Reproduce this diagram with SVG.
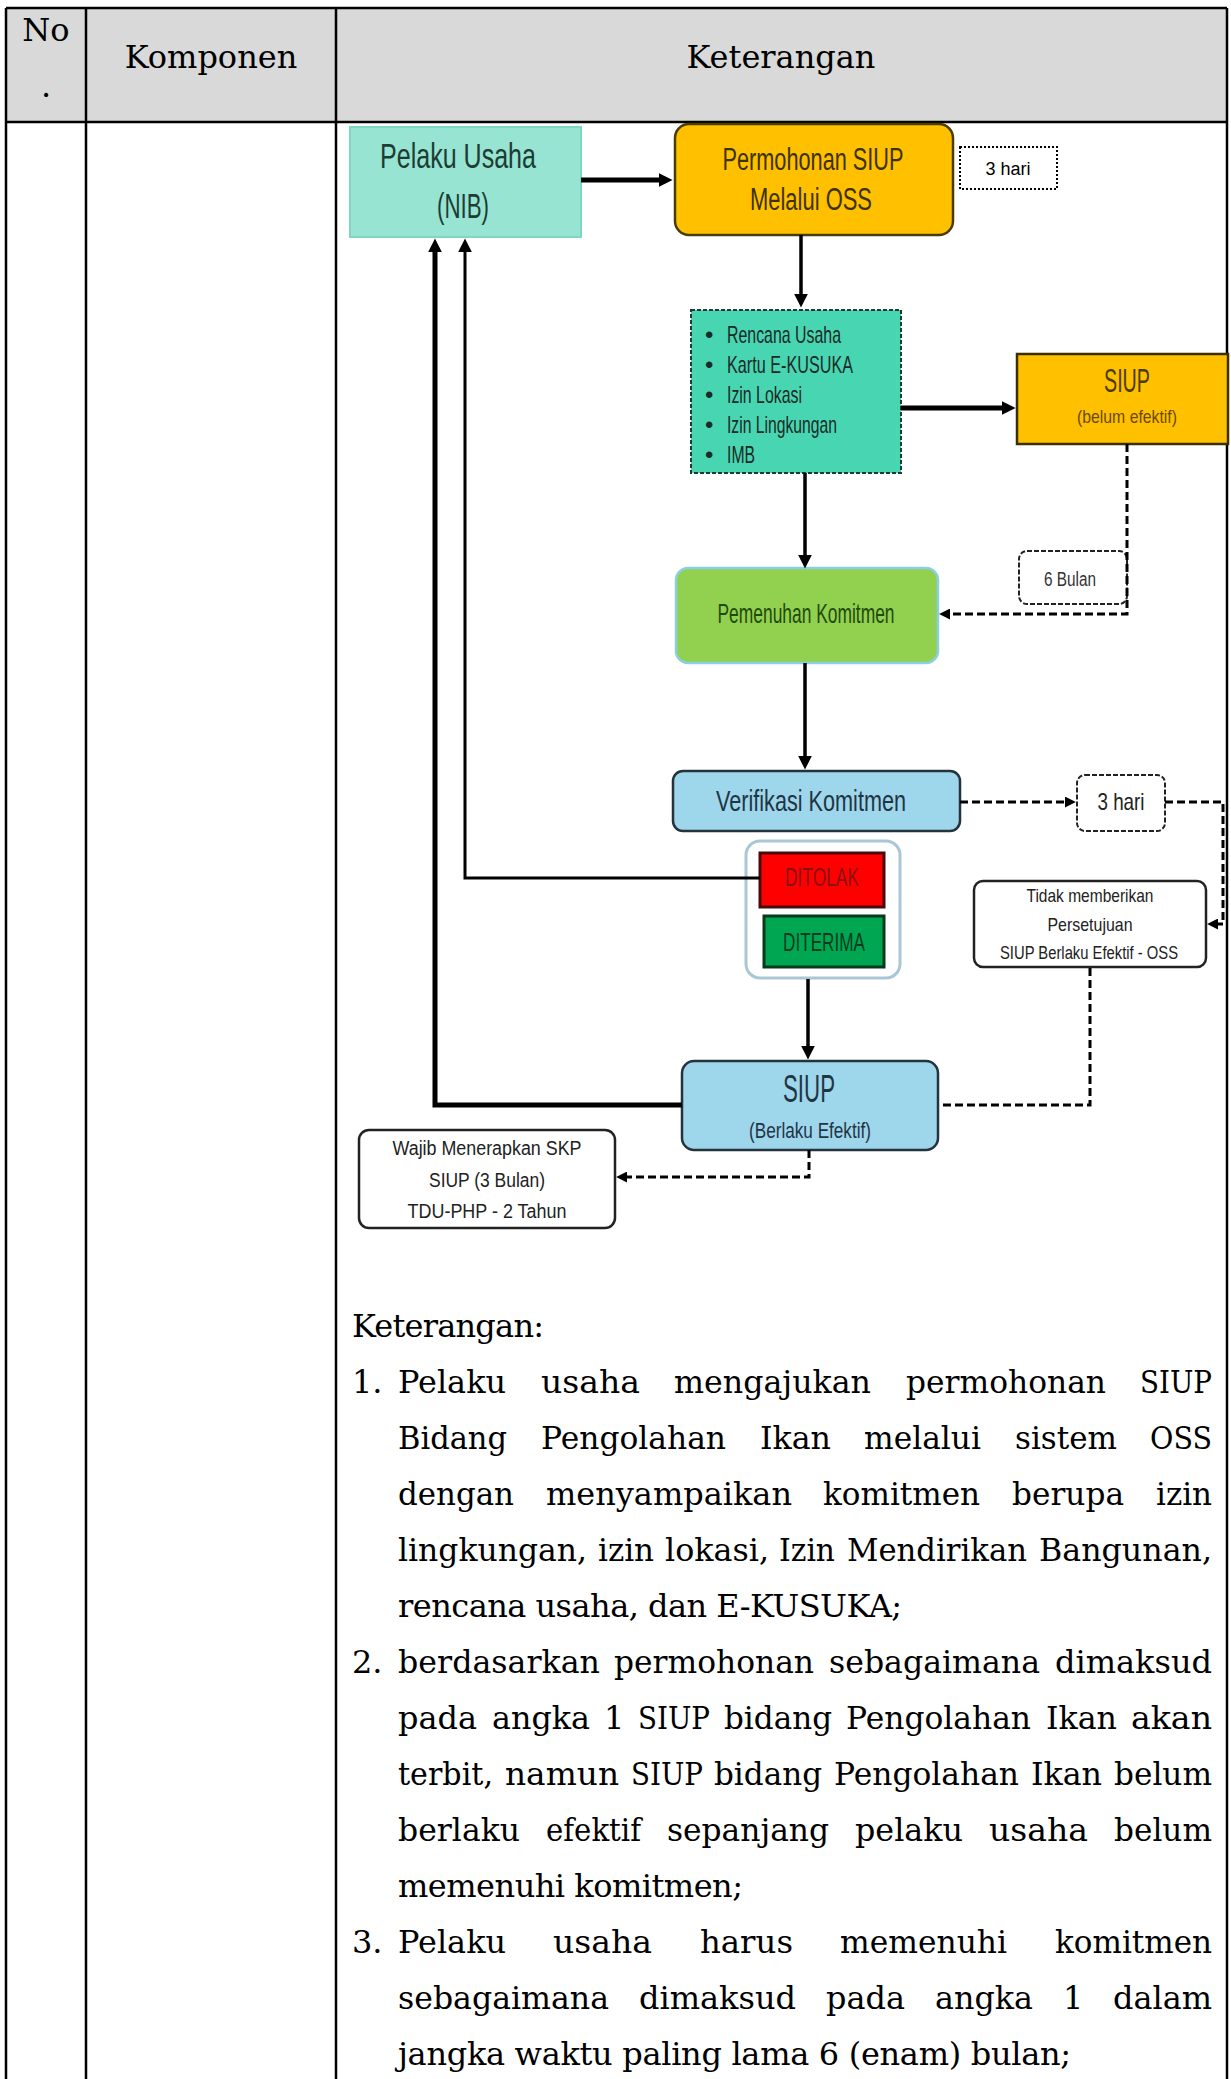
<svg xmlns="http://www.w3.org/2000/svg" width="1231" height="2079" viewBox="0 0 1231 2079">
<style>
.tb{fill:none;stroke:#000;stroke-width:2.5}
.sf{font-family:"DejaVu Serif","Liberation Serif",serif;font-size:32px;fill:#000}
.c{font-family:"Liberation Sans Narrow","Liberation Sans",Arial,sans-serif;text-anchor:middle}
.l{font-family:"Liberation Sans Narrow","Liberation Sans",Arial,sans-serif}
.cn{fill:none;stroke:#000;stroke-linejoin:miter}
.s5{stroke-width:5}
.s3{stroke-width:3.5}
.ds{stroke-width:3;stroke-dasharray:8 4}
</style>
<defs>
<marker id="a" viewBox="0 0 10 10" refX="1" refY="5" markerWidth="14" markerHeight="14" markerUnits="userSpaceOnUse" orient="auto"><path d="M0,0 L10,5 L0,10 z" fill="#000"/></marker>
<marker id="d" viewBox="0 0 10 10" refX="1" refY="5" markerWidth="11" markerHeight="11" markerUnits="userSpaceOnUse" orient="auto"><path d="M0,0 L10,5 L0,10 z" fill="#000"/></marker>
</defs>
<rect width="1231" height="2079" fill="#fff"/>
<g id="table">
<rect x="6" y="8" width="1221" height="114" fill="#d9d9d9"/>
<path class="tb" d="M6,8 H1227 M6,122 H1227 M6,8 V2079 M86,8 V2079 M336,8 V2079 M1227,8 V2079"/>
<text class="sf" x="46" y="41" text-anchor="middle">No</text>
<text class="sf" x="46" y="97" text-anchor="middle">.</text>
<text class="sf" x="211" y="68" text-anchor="middle">Komponen</text>
<text class="sf" x="781" y="68" text-anchor="middle">Keterangan</text>
</g>
<g id="pelaku-usaha">
<rect x="350" y="127" width="231" height="110" fill="#96e4d1" stroke="#7dd8c2" stroke-width="2"/>
<text class="c" x="458" y="168" font-size="35" fill="#1d3c34" textLength="156" lengthAdjust="spacingAndGlyphs">Pelaku Usaha</text>
<text class="c" x="463" y="218" font-size="35" fill="#1d3c34" textLength="52" lengthAdjust="spacingAndGlyphs">(NIB)</text>
</g>
<g id="permohonan">
<rect x="675" y="124" width="278" height="111" rx="14" fill="#ffc000" stroke="#4a3c00" stroke-width="2.5"/>
<text class="c" x="813" y="170" font-size="31" fill="#3d3200" textLength="181" lengthAdjust="spacingAndGlyphs">Permohonan SIUP</text>
<text class="c" x="811" y="210" font-size="31" fill="#3d3200" textLength="122" lengthAdjust="spacingAndGlyphs">Melalui  OSS</text>
</g>
<g id="durasi-3-hari">
<rect x="960" y="147" width="97" height="42" fill="#fff" stroke="#000" stroke-width="2" stroke-dasharray="2 2"/>
<text x="1008" y="175" font-family="Liberation Sans, Arial, sans-serif" font-size="18" text-anchor="middle">3 hari</text>
</g>
<g id="komitmen">
<rect x="691" y="310" width="210" height="163" fill="#48d6b2" stroke="#1d3b33" stroke-width="2" stroke-dasharray="4 2"/>
<g class="l" font-size="24" fill="#1a2a26">
<text x="705" y="343">•</text><text x="727" y="343" textLength="114" lengthAdjust="spacingAndGlyphs">Rencana Usaha</text>
<text x="705" y="373">•</text><text x="727" y="373" textLength="126" lengthAdjust="spacingAndGlyphs">Kartu  E-KUSUKA</text>
<text x="705" y="403">•</text><text x="727" y="403" textLength="75" lengthAdjust="spacingAndGlyphs">Izin Lokasi</text>
<text x="705" y="433">•</text><text x="727" y="433" textLength="110" lengthAdjust="spacingAndGlyphs">Izin Lingkungan</text>
<text x="705" y="463">•</text><text x="727" y="463" textLength="28" lengthAdjust="spacingAndGlyphs">IMB</text>
</g>
</g>
<g id="siup-belum-efektif">
<rect x="1017" y="354" width="211" height="90" fill="#ffc000" stroke="#3a2f00" stroke-width="2.5"/>
<text class="c" x="1127" y="392" font-size="33" fill="#4d3b00" textLength="46" lengthAdjust="spacingAndGlyphs">SIUP</text>
<text class="c" x="1127" y="423" font-size="19" fill="#6a4a00" textLength="100" lengthAdjust="spacingAndGlyphs">(belum efektif)</text>
</g>
<g id="enam-bulan">
<rect x="1019" y="551" width="108" height="53" rx="8" fill="#fff" stroke="#222" stroke-width="2" stroke-dasharray="5 2"/>
<text class="c" x="1070" y="586" font-size="20" fill="#333" textLength="52" lengthAdjust="spacingAndGlyphs">6 Bulan</text>
</g>
<g id="pemenuhan-komitmen">
<rect x="676" y="568" width="262" height="95" rx="12" fill="#92d050" stroke="#8ccfe0" stroke-width="2.5"/>
<text class="c" x="806" y="623" font-size="28" fill="#1f4a0c" textLength="177" lengthAdjust="spacingAndGlyphs">Pemenuhan Komitmen</text>
</g>
<g id="verifikasi-komitmen">
<rect x="673" y="771" width="287" height="60" rx="10" fill="#9ed6ec" stroke="#25333c" stroke-width="2.5"/>
<text class="c" x="811" y="811" font-size="29" fill="#1f3543" textLength="190" lengthAdjust="spacingAndGlyphs">Verifikasi Komitmen</text>
</g>
<g id="durasi-3-hari-2">
<rect x="1077" y="775" width="88" height="56" rx="8" fill="#fff" stroke="#222" stroke-width="2" stroke-dasharray="5 2"/>
<text class="c" x="1121" y="810" font-size="24" fill="#222" textLength="47" lengthAdjust="spacingAndGlyphs">3 hari</text>
</g>
<g id="keputusan">
<rect x="746" y="841" width="154" height="137" rx="14" fill="#fff" stroke="#a9c7d6" stroke-width="3"/>
</g>
<g id="ditolak">
<rect x="760" y="853" width="124" height="54" fill="#ff0000" stroke="#4a0a0a" stroke-width="3"/>
<text class="c" x="822" y="886" font-size="25" fill="#8a1010" textLength="74" lengthAdjust="spacingAndGlyphs">DITOLAK</text>
</g>
<g id="diterima">
<rect x="764" y="916" width="120" height="51" fill="#00a651" stroke="#053a1a" stroke-width="3"/>
<text class="c" x="824" y="951" font-size="25" fill="#073d1d" textLength="82" lengthAdjust="spacingAndGlyphs">DITERIMA</text>
</g>
<g id="tidak-memberikan">
<rect x="974" y="881" width="232" height="86" rx="9" fill="#fff" stroke="#222" stroke-width="2.5"/>
<text class="c" x="1090" y="902" font-size="19" fill="#222" textLength="127" lengthAdjust="spacingAndGlyphs">Tidak memberikan</text>
<text class="c" x="1090" y="931" font-size="19" fill="#222" textLength="85" lengthAdjust="spacingAndGlyphs">Persetujuan</text>
<text class="c" x="1089" y="959" font-size="18" fill="#222" textLength="178" lengthAdjust="spacingAndGlyphs">SIUP Berlaku Efektif - OSS</text>
</g>
<g id="siup-berlaku-efektif">
<rect x="682" y="1061" width="256" height="89" rx="12" fill="#9ed6ec" stroke="#25333c" stroke-width="2.5"/>
<text class="c" x="809" y="1102" font-size="38" fill="#1f3543" textLength="52" lengthAdjust="spacingAndGlyphs">SIUP</text>
<text class="c" x="810" y="1138" font-size="22" fill="#1f3543" textLength="122" lengthAdjust="spacingAndGlyphs">(Berlaku Efektif)</text>
</g>
<g id="wajib">
<rect x="359" y="1130" width="256" height="98" rx="10" fill="#fff" stroke="#222" stroke-width="2.5"/>
<text class="c" x="487" y="1155" font-size="20" fill="#222" textLength="189" lengthAdjust="spacingAndGlyphs">Wajib  Menerapkan SKP</text>
<text class="c" x="487" y="1187" font-size="20" fill="#222" textLength="116" lengthAdjust="spacingAndGlyphs">SIUP (3 Bulan)</text>
<text class="c" x="487" y="1218" font-size="20" fill="#222" textLength="159" lengthAdjust="spacingAndGlyphs">TDU-PHP - 2 Tahun</text>
</g>
<g id="connectors">
<path class="cn s5" d="M581,180 H660" marker-end="url(#a)"/>
<path class="cn s3" d="M801,235 V295" marker-end="url(#a)"/>
<path class="cn s5" d="M901,408 H1003" marker-end="url(#a)"/>
<path class="cn s3" d="M805,473 V556" marker-end="url(#a)"/>
<path class="cn s3" d="M805,663 V757" marker-end="url(#a)"/>
<path class="cn s3" d="M808,979 V1047" marker-end="url(#a)"/>
<path class="cn" stroke-width="3" d="M760,878 H465 V251" marker-end="url(#a)"/>
<path class="cn s5" d="M682,1105 H435 V251" marker-end="url(#a)"/>
<path class="cn ds" d="M1127,444 V614 H949" marker-end="url(#d)"/>
<path class="cn ds" d="M960,802 H1066" marker-end="url(#d)"/>
<path class="cn ds" d="M1165,802 H1223 V924 H1217" marker-end="url(#d)"/>
<path class="cn ds" d="M1090,968 V1105 H939"/>
<path class="cn ds" d="M809,1150 V1177 H626" marker-end="url(#d)"/>
</g>
<g id="keterangan" class="sf">
<text x="352" y="1337" textLength="192" lengthAdjust="spacing">Keterangan:</text>
<text x="352" y="1393">1.</text>
<text x="398" y="1393" textLength="108" lengthAdjust="spacingAndGlyphs">Pelaku</text>
<text x="541" y="1393" textLength="99" lengthAdjust="spacingAndGlyphs">usaha</text>
<text x="674" y="1393" textLength="197" lengthAdjust="spacingAndGlyphs">mengajukan</text>
<text x="906" y="1393" textLength="200" lengthAdjust="spacingAndGlyphs">permohonan</text>
<text x="1140" y="1393" textLength="72" lengthAdjust="spacingAndGlyphs">SIUP</text>
<text x="398" y="1449" textLength="109" lengthAdjust="spacingAndGlyphs">Bidang</text>
<text x="541" y="1449" textLength="185" lengthAdjust="spacingAndGlyphs">Pengolahan</text>
<text x="760" y="1449" textLength="71" lengthAdjust="spacingAndGlyphs">Ikan</text>
<text x="864" y="1449" textLength="117" lengthAdjust="spacingAndGlyphs">melalui</text>
<text x="1015" y="1449" textLength="102" lengthAdjust="spacingAndGlyphs">sistem</text>
<text x="1150" y="1449" textLength="62" lengthAdjust="spacingAndGlyphs">OSS</text>
<text x="398" y="1505" textLength="116" lengthAdjust="spacingAndGlyphs">dengan</text>
<text x="546" y="1505" textLength="246" lengthAdjust="spacingAndGlyphs">menyampaikan</text>
<text x="823" y="1505" textLength="157" lengthAdjust="spacingAndGlyphs">komitmen</text>
<text x="1012" y="1505" textLength="112" lengthAdjust="spacingAndGlyphs">berupa</text>
<text x="1156" y="1505" textLength="56" lengthAdjust="spacingAndGlyphs">izin</text>
<text x="398" y="1561" textLength="189" lengthAdjust="spacingAndGlyphs">lingkungan,</text>
<text x="598" y="1561" textLength="56" lengthAdjust="spacingAndGlyphs">izin</text>
<text x="665" y="1561" textLength="104" lengthAdjust="spacingAndGlyphs">lokasi,</text>
<text x="779" y="1561" textLength="56" lengthAdjust="spacingAndGlyphs">Izin</text>
<text x="847" y="1561" textLength="180" lengthAdjust="spacingAndGlyphs">Mendirikan</text>
<text x="1039" y="1561" textLength="173" lengthAdjust="spacingAndGlyphs">Bangunan,</text>
<text x="398" y="1617" textLength="504" lengthAdjust="spacing">rencana usaha, dan E-KUSUKA;</text>
<text x="352" y="1673">2.</text>
<text x="398" y="1673" textLength="202" lengthAdjust="spacingAndGlyphs">berdasarkan</text>
<text x="614" y="1673" textLength="200" lengthAdjust="spacingAndGlyphs">permohonan</text>
<text x="829" y="1673" textLength="211" lengthAdjust="spacingAndGlyphs">sebagaimana</text>
<text x="1055" y="1673" textLength="157" lengthAdjust="spacingAndGlyphs">dimaksud</text>
<text x="398" y="1729" textLength="79" lengthAdjust="spacingAndGlyphs">pada</text>
<text x="492" y="1729" textLength="98" lengthAdjust="spacingAndGlyphs">angka</text>
<text x="604" y="1729">1</text>
<text x="638" y="1729" textLength="72" lengthAdjust="spacingAndGlyphs">SIUP</text>
<text x="724" y="1729" textLength="108" lengthAdjust="spacingAndGlyphs">bidang</text>
<text x="846" y="1729" textLength="185" lengthAdjust="spacingAndGlyphs">Pengolahan</text>
<text x="1046" y="1729" textLength="71" lengthAdjust="spacingAndGlyphs">Ikan</text>
<text x="1131" y="1729" textLength="81" lengthAdjust="spacingAndGlyphs">akan</text>
<text x="398" y="1785" textLength="95" lengthAdjust="spacingAndGlyphs">terbit,</text>
<text x="505" y="1785" textLength="114" lengthAdjust="spacingAndGlyphs">namun</text>
<text x="631" y="1785" textLength="72" lengthAdjust="spacingAndGlyphs">SIUP</text>
<text x="714" y="1785" textLength="108" lengthAdjust="spacingAndGlyphs">bidang</text>
<text x="834" y="1785" textLength="185" lengthAdjust="spacingAndGlyphs">Pengolahan</text>
<text x="1031" y="1785" textLength="71" lengthAdjust="spacingAndGlyphs">Ikan</text>
<text x="1114" y="1785" textLength="98" lengthAdjust="spacingAndGlyphs">belum</text>
<text x="398" y="1841" textLength="122" lengthAdjust="spacingAndGlyphs">berlaku</text>
<text x="546" y="1841" textLength="95" lengthAdjust="spacingAndGlyphs">efektif</text>
<text x="667" y="1841" textLength="162" lengthAdjust="spacingAndGlyphs">sepanjang</text>
<text x="855" y="1841" textLength="108" lengthAdjust="spacingAndGlyphs">pelaku</text>
<text x="989" y="1841" textLength="99" lengthAdjust="spacingAndGlyphs">usaha</text>
<text x="1114" y="1841" textLength="98" lengthAdjust="spacingAndGlyphs">belum</text>
<text x="398" y="1897" textLength="345" lengthAdjust="spacing">memenuhi komitmen;</text>
<text x="352" y="1953">3.</text>
<text x="398" y="1953" textLength="108" lengthAdjust="spacingAndGlyphs">Pelaku</text>
<text x="553" y="1953" textLength="99" lengthAdjust="spacingAndGlyphs">usaha</text>
<text x="700" y="1953" textLength="93" lengthAdjust="spacingAndGlyphs">harus</text>
<text x="840" y="1953" textLength="167" lengthAdjust="spacingAndGlyphs">memenuhi</text>
<text x="1055" y="1953" textLength="157" lengthAdjust="spacingAndGlyphs">komitmen</text>
<text x="398" y="2009" textLength="211" lengthAdjust="spacingAndGlyphs">sebagaimana</text>
<text x="639" y="2009" textLength="157" lengthAdjust="spacingAndGlyphs">dimaksud</text>
<text x="826" y="2009" textLength="79" lengthAdjust="spacingAndGlyphs">pada</text>
<text x="935" y="2009" textLength="98" lengthAdjust="spacingAndGlyphs">angka</text>
<text x="1063" y="2009">1</text>
<text x="1113" y="2009" textLength="99" lengthAdjust="spacingAndGlyphs">dalam</text>
<text x="398" y="2065" textLength="673" lengthAdjust="spacing">jangka waktu paling lama 6 (enam) bulan;</text>
</g>
</svg>
